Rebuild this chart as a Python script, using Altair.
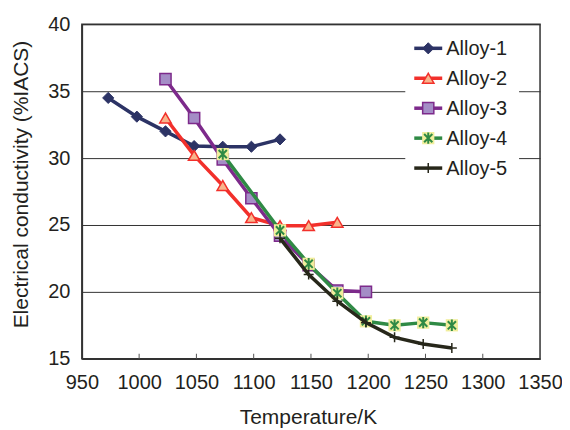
import altair as alt
import pandas as pd

# ---- data ----
series = ["Alloy-1", "Alloy-2", "Alloy-3", "Alloy-4", "Alloy-5"]
t_alloy1 = [973, 998, 1023, 1048, 1073, 1098, 1123]
v_alloy1 = [34.5, 33.1, 32.0, 30.9, 30.85, 30.85, 31.4]
t_alloy2 = [1023, 1048, 1073, 1098, 1123, 1148, 1173]
v_alloy2 = [33.0, 30.2, 27.95, 25.55, 24.95, 24.95, 25.2]
t_alloy3 = [1023, 1048, 1073, 1098, 1123, 1148, 1173, 1198]
v_alloy3 = [35.9, 33.0, 29.9, 27.0, 24.2, 22.0, 20.1, 20.0]
t_alloy4 = [1073, 1123, 1148, 1173, 1198, 1223, 1248, 1273]
v_alloy4 = [30.3, 24.6, 22.1, 19.9, 17.8, 17.5, 17.7, 17.5]
t_alloy5 = [1123, 1148, 1173, 1198, 1223, 1248, 1273]
v_alloy5 = [24.0, 21.3, 19.3, 17.7, 16.6, 16.1, 15.8]

x_ticks = [950, 1000, 1050, 1100, 1150, 1200, 1250, 1300, 1350]
y_ticks = [15, 20, 25, 30, 35, 40]

temps = [t_alloy1, t_alloy2, t_alloy3, t_alloy4, t_alloy5]
vals = [v_alloy1, v_alloy2, v_alloy3, v_alloy4, v_alloy5]

# ---- styles ----
FONT = "Liberation Sans"
line_colors = ["#2C3365", "#F2302B", "#7D2A8B", "#2F8A45", "#27271A"]
STAR = "M-0.72,-0.72L0.72,0.72M-0.72,0.72L0.72,-0.72M0,-1L0,1"
PLUS = "M-1,0L1,0M0,-1L0,1"
marker_specs = [
    [dict(shape="diamond", size=125, filled=True, fill="#2C3365", stroke="#2C3365", strokeWidth=1, opacity=1)],
    [dict(shape="triangle-up", size=130, filled=True, fill="#F8B58C", stroke="#F2302B", strokeWidth=1.5, opacity=1)],
    [dict(shape="square", size=125, filled=True, fill="#A48DC6", stroke="#7D2A8B", strokeWidth=1.5, opacity=1)],
    [dict(shape="square", size=150, filled=True, fill="#F1EE9C", strokeWidth=0, opacity=1),
     dict(shape=STAR, size=130, filled=False, stroke="#2F8A45", strokeWidth=2, opacity=1)],
    [dict(shape=PLUS, size=100, filled=False, stroke="#27271A", strokeWidth=1.5, opacity=1)],
]

W, H = 459, 335
xscale = alt.Scale(domain=[950, 1350], nice=False, zero=False)
yscale = alt.Scale(domain=[15, 40], nice=False, zero=False)

layers = []

# x ticks pointing inward
tick_df = pd.DataFrame({"T": x_ticks[1:-1]})
layers.append(
    alt.Chart(tick_df).mark_rule(color="#555", strokeWidth=1).encode(
        x=alt.X("T:Q", scale=xscale,
                axis=alt.Axis(values=x_ticks, format="d", labelOverlap=False, labelFlush=False,
                              title="Temperature/K",
                              ticks=False, grid=False,
                              domain=True, domainColor="#333", domainWidth=1.5,
                              labelFontSize=20, labelPadding=14, labelColor="#231F20",
                              labelFont=FONT, titleFont=FONT, titleFontSize=21,
                              titleFontWeight="normal", titleColor="#231F20",
                              titleX=W / 2 - 3, titleY=59, titleBaseline="middle")),
        y=alt.value(H),
        y2=alt.value(H - 5),
    )
)

# series lines and markers
for i, name in enumerate(series):
    df = pd.DataFrame({"T": temps[i], "V": vals[i], "series": name})
    enc = dict(
        x=alt.X("T:Q", scale=xscale),
        y=alt.Y("V:Q", scale=yscale,
                axis=alt.Axis(values=y_ticks, title="Electrical conductivity (%IACS)", ticks=False,
                              labelFlush=False, labelOverlap=False,
                              grid=True, gridColor="#333", gridWidth=1,
                              domain=True, domainColor="#333", domainWidth=1.5,
                              labelFontSize=20, labelPadding=12, labelColor="#231F20",
                              labelFont=FONT, titleFont=FONT, titleFontSize=21,
                              titleFontWeight="normal", titleColor="#231F20",
                              titleX=-60, titleY=160, titleBaseline="middle")),
    )
    layers.append(alt.Chart(df).mark_line(color=line_colors[i], strokeWidth=3.5).encode(**enc))
    for spec in marker_specs[i]:
        layers.append(alt.Chart(df).mark_point(**spec).encode(**enc))

# legend (white box, line samples, markers, labels)
one = pd.DataFrame({"a": [0]})
layers.append(
    alt.Chart(one).mark_rect(color="white").encode(
        x=alt.value(324), x2=alt.value(438), y=alt.value(4), y2=alt.value(161)
    )
)
for i, name in enumerate(series):
    ry = 24 + 30 * i
    layers.append(
        alt.Chart(one).mark_rule(color=line_colors[i], strokeWidth=3.5).encode(
            x=alt.value(333), x2=alt.value(361), y=alt.value(ry)
        )
    )
    for spec in marker_specs[i]:
        layers.append(
            alt.Chart(one).mark_point(**spec).encode(x=alt.value(347), y=alt.value(ry))
        )
    layers.append(
        alt.Chart(one).mark_text(align="left", baseline="middle", font=FONT, fontSize=20,
                                 color="#231F20").encode(
            x=alt.value(365), y=alt.value(ry + 1), text=alt.value(name)
        )
    )

chart = alt.layer(*layers).properties(
    width=W, height=H,
    autosize=alt.AutoSizeParams(type="none"),
    padding={"left": 74, "top": 16, "right": 22, "bottom": 71},
    background="white",
).configure_view(stroke="#333", strokeWidth=1.5)

chart.save("out.html", embed_options={"renderer": "svg", "actions": False})
